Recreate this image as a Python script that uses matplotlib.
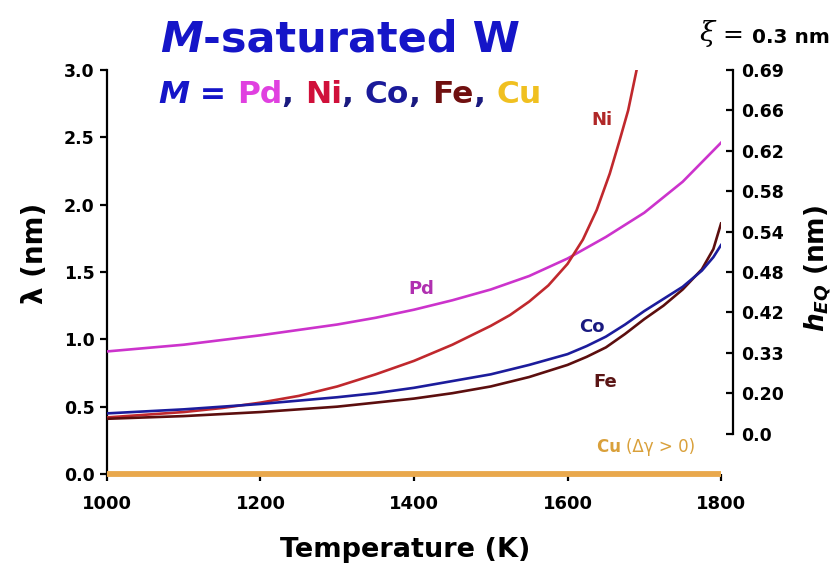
import matplotlib
matplotlib.use("Agg")
import matplotlib.pyplot as plt
import numpy as np

plt.rcParams['font.family'] = ['DejaVu Sans']
plt.rcParams['mathtext.fontset'] = 'custom'
plt.rcParams['mathtext.it'] = 'DejaVu Sans:bold:italic'
plt.rcParams['mathtext.rm'] = 'DejaVu Sans:bold'
plt.rcParams['mathtext.bf'] = 'DejaVu Sans:bold'

# ---- data (lambda in nm vs temperature in K) ----
T_pd = [1000, 1050, 1100, 1150, 1200, 1250, 1300, 1350, 1400, 1450, 1500, 1550, 1600,
        1650, 1700, 1750, 1800]
lam_pd = [0.91, 0.935, 0.96, 0.995, 1.03, 1.07, 1.11, 1.16, 1.22, 1.29, 1.37, 1.47, 1.60,
          1.76, 1.94, 2.17, 2.46]

T_ni = [1000, 1050, 1100, 1150, 1200, 1250, 1300, 1350, 1400, 1450, 1500, 1525, 1550,
        1575, 1600, 1620, 1638, 1655, 1668, 1679, 1690, 1695]
lam_ni = [0.42, 0.44, 0.46, 0.49, 0.53, 0.58, 0.65, 0.74, 0.84, 0.96, 1.10, 1.18, 1.28,
          1.40, 1.56, 1.74, 1.96, 2.23, 2.48, 2.70, 3.0, 3.12]

T_co = [1000, 1100, 1200, 1300, 1350, 1400, 1450, 1500, 1550, 1600, 1625, 1650, 1675,
        1700, 1725, 1750, 1775, 1790, 1800]
lam_co = [0.45, 0.48, 0.52, 0.57, 0.60, 0.64, 0.69, 0.74, 0.81, 0.89, 0.95, 1.02, 1.11,
          1.21, 1.30, 1.39, 1.51, 1.61, 1.70]

T_fe = [1000, 1100, 1200, 1300, 1350, 1400, 1450, 1500, 1550, 1600, 1625, 1650, 1675,
        1700, 1725, 1750, 1775, 1790, 1800]
lam_fe = [0.41, 0.43, 0.46, 0.50, 0.53, 0.56, 0.60, 0.65, 0.72, 0.81, 0.87, 0.94, 1.04,
          1.15, 1.25, 1.37, 1.52, 1.67, 1.86]

T_cu = [1000, 1800]
lam_cu = [0.0, 0.0]

x_ticks = [1000, 1200, 1400, 1600, 1800]
y_ticks = [0.0, 0.5, 1.0, 1.5, 2.0, 2.5, 3.0]
h_tick_lambda = [3.0, 2.7, 2.4, 2.1, 1.8, 1.5, 1.2, 0.9, 0.6, 0.3]
h_tick_labels = ["0.69", "0.66", "0.62", "0.58", "0.54", "0.48", "0.42", "0.33", "0.20", "0.0"]

c_pd, c_ni, c_co, c_fe, c_cu = '#CC33CC', '#C0282D', '#1C1C9C', '#5C0E0E', '#E9A84C'

fig = plt.figure(figsize=(8.39, 5.68), dpi=100)
ax = fig.add_axes([0.1275, 0.1655, 0.7319, 0.7113])

ax.plot(T_pd, lam_pd, color=c_pd, lw=1.9, zorder=3)
ax.plot(T_ni, lam_ni, color=c_ni, lw=1.9, zorder=3)
ax.plot(T_fe, lam_fe, color=c_fe, lw=1.9, zorder=3)
ax.plot(T_co, lam_co, color=c_co, lw=1.9, zorder=3)
ax.plot(T_cu, lam_cu, color=c_cu, lw=4.2, zorder=4, clip_on=False, solid_capstyle='butt')

ax.set_xlim(1000, 1800)
ax.set_ylim(0, 3.0)
ax.set_xticks(x_ticks)
ax.set_xticklabels([str(v) for v in x_ticks])
ax.set_yticks(y_ticks)
ax.set_yticklabels([f"{v:.1f}" for v in y_ticks])
for s in ['top', 'right', 'bottom']:
    ax.spines[s].set_visible(False)
ax.spines['left'].set_linewidth(1.6)
ax.tick_params(axis='both', direction='out', length=5, width=1.6)
ax.tick_params(axis='x', labelsize=13, pad=10)
ax.tick_params(axis='y', labelsize=12.5, pad=4)
for lab in ax.get_xticklabels() + ax.get_yticklabels():
    lab.set_fontweight('bold')

# right h_EQ axis
tw = ax.twinx()
tw.set_ylim(0, 3.0)
for s in ['top', 'left', 'bottom']:
    tw.spines[s].set_visible(False)
tw.spines['right'].set_position(('axes', 1.0195))
tw.spines['right'].set_bounds(0.3, 3.0)
tw.spines['right'].set_linewidth(1.6)
tw.set_yticks(h_tick_lambda)
tw.set_yticklabels(h_tick_labels)
tw.tick_params(axis='y', direction='in', length=5, width=1.6, labelsize=12.5, pad=6)
for lab in tw.get_yticklabels():
    lab.set_fontweight('bold')

# curve labels
ax.text(1645, 2.63, "Ni", color='#B02828', fontsize=13, fontweight='bold', ha='center', va='center')
ax.text(1410, 1.37, "Pd", color='#B030B0', fontsize=13, fontweight='bold', ha='center', va='center')
ax.text(1632, 1.09, "Co", color='#1A1A80', fontsize=13, fontweight='bold', ha='center', va='center')
ax.text(1649, 0.68, "Fe", color='#5A1515', fontsize=13, fontweight='bold', ha='center', va='center')
t_cu = ax.text(1638, 0.20, "Cu ", color='#D9A03A', fontsize=12, fontweight='bold', ha='left', va='center')
ax.annotate("(Δγ > 0)", xy=(1, 0), xycoords=t_cu, color='#D9A03A', fontsize=12,
            ha='left', va='bottom')

# axis labels
fig.text(0.4827, 1 - 550 / 568, "Temperature (K)", fontsize=19.5, fontweight='bold',
         ha='center', va='center')
fig.text(0.0417, 1 - 253 / 568, "λ (nm)", fontsize=20, fontweight='bold', rotation=90,
         ha='center', va='center')
fig.text(0.975, 1 - 268 / 568, r"$h_{EQ}$ (nm)", fontsize=19, fontweight='bold', rotation=90,
         ha='center', va='center')

# title
blue = '#1515C8'
t1 = fig.text(0.1907, 0.893, "M", color=blue, fontsize=31, fontweight='bold', style='italic',
              ha='left', va='bottom')
ax.annotate("-saturated W", xy=(1, 0), xycoords=t1, color=blue, fontsize=31,
            fontweight='bold', ha='left', va='bottom', annotation_clip=False)

# subtitle with colored parts
parts = [("M", blue, 'italic'), (" = ", blue, 'normal'), ("Pd", '#E040E0', 'normal'),
         (", ", '#1A1A80', 'normal'), ("Ni", '#D0103A', 'normal'), (", ", '#1A1A80', 'normal'),
         ("Co", '#1A1A9A', 'normal'), (", ", '#1A1A80', 'normal'), ("Fe", '#701010', 'normal'),
         (", ", '#1A1A80', 'normal'), ("Cu", '#F0C020', 'normal')]
prev = fig.text(0.1883, 0.808, parts[0][0], color=parts[0][1], style=parts[0][2],
                fontsize=22.5, fontweight='bold', ha='left', va='bottom')
for txt, col, sty in parts[1:]:
    prev = ax.annotate(txt, xy=(1, 0), xycoords=prev, color=col, style=sty, fontsize=22.5,
                       fontweight='bold', ha='left', va='bottom', annotation_clip=False)

# xi annotation
tx = fig.text(0.834, 1 - 47 / 568, "ξ", fontsize=20, family='DejaVu Serif', style='italic',
              ha='left', va='bottom')
te = ax.annotate(" = ", xy=(1, 0), xycoords=tx, fontsize=18, ha='left', va='bottom',
                 annotation_clip=False)
ax.annotate("0.3 nm", xy=(1, 0), xycoords=te, fontsize=14.5, fontweight='bold',
            ha='left', va='bottom', annotation_clip=False)

fig.savefig("out.png", dpi=100)
